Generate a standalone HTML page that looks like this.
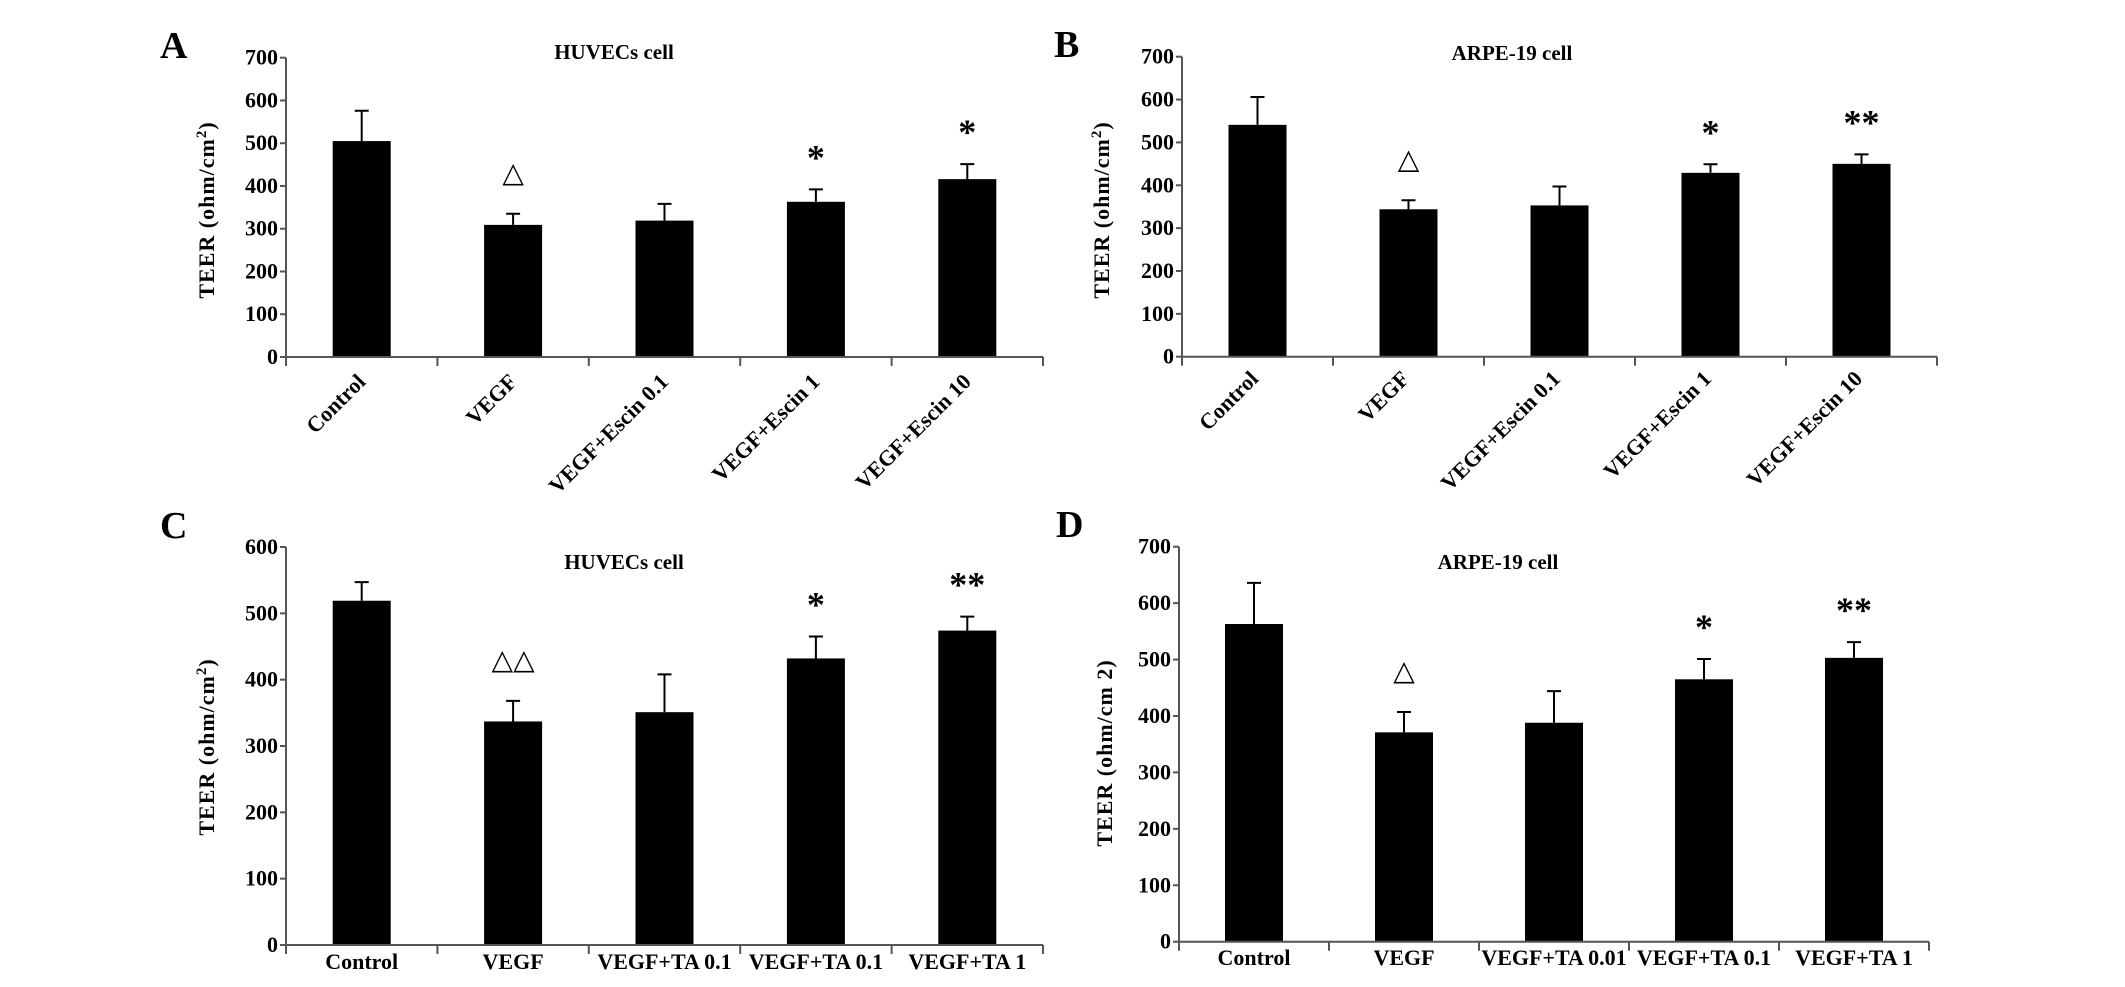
<!DOCTYPE html>
<html><head><meta charset="utf-8"><style>
html,body{margin:0;padding:0;background:#fff;}
svg{display:block;font-family:"Liberation Serif",serif;}
</style></head><body>
<svg id="fig" width="2125" height="987" viewBox="0 0 2125 987"></svg>
<script>
const escinCats = ["Control","VEGF","VEGF+Escin 0.1","VEGF+Escin 1","VEGF+Escin 10"];
const taCatsC = ["Control","VEGF","VEGF+TA 0.1","VEGF+TA 0.1","VEGF+TA 1"];
const taCatsD = ["Control","VEGF","VEGF+TA 0.01","VEGF+TA 0.1","VEGF+TA 1"];
const valuesA = [505,309,319,363,416];
const errorsA = [576,335,358,392,451];
const marksA = ["","△","","*","*"];
const valuesB = [541,344,353,429,450];
const errorsB = [606,365,397,449,472];
const marksB = ["","△","","*","**"];
const valuesC = [519,337,351,432,474];
const errorsC = [547,368,408,465,495];
const marksC = ["","△△","","*","**"];
const valuesD = [563,371,388,465,503];
const errorsD = [636,407,444,501,531];
const marksD = ["","△","","*","**"];
const ticks700 = [0,100,200,300,400,500,600,700];
const ticks600 = [0,100,200,300,400,500,600];

const NS="http://www.w3.org/2000/svg";
const svg=document.getElementById('fig');
function mk(tag,attrs,parent){const e=document.createElementNS(NS,tag);for(const k in attrs)e.setAttribute(k,attrs[k]);(parent||svg).appendChild(e);return e;}

function panel(p){
  const g=mk('g',{});
  
  
  const ymax=p.ticks[p.ticks.length-1];
  const yS=v=>p.y0-(v/ymax)*(p.y0-p.yTop);
  const cw=(p.xEnd-p.x0)/p.cats.length;
  const xC=i=>p.x0+cw*(i+0.5);
  const L=mk('text',{x:p.lx,y:p.ly,'font-size':38,'font-weight':'bold'},g);L.textContent=p.id;
  
  
  const T=mk('text',{x:p.tx,y:p.ty+7,'font-size':21,'font-weight':'bold','text-anchor':'middle'},g);T.textContent=p.title;
  
  
  const yt=mk('text',{x:0,y:0,'font-size':22,'font-weight':'bold','text-anchor':'middle','letter-spacing':1,transform:`translate(${p.ytx+7},${p.yty}) rotate(-90)`},g);
  yt.innerHTML=p.sup?'TEER (ohm/cm<tspan baseline-shift="super" font-size="15">2</tspan>)':'TEER (ohm/cm 2)';
  
  
  p.vals.forEach((v,i)=>{
    const cx=xC(i),bw=58;
    const b=mk('rect',{x:cx-bw/2,y:yS(v),width:bw,height:p.y0-yS(v),fill:'#000'},g);
    
    
    const e=mk('path',{d:`M${cx},${yS(v)}V${yS(p.errs[i])}M${cx-7},${yS(p.errs[i])}H${cx+7}`,stroke:'#000','stroke-width':2,fill:'none'},g);
    
    
    if(p.marks[i]){
      const tri=p.marks[i].includes('△');
      const m=mk('text',{x:cx,y:yS(p.errs[i])-(tri?32:20),'font-size':tri?28:36,'font-weight':tri?'normal':'bold','text-anchor':'middle','font-family':tri?'"DejaVu Sans",sans-serif':'"Liberation Serif",serif'},g);
      m.textContent=p.marks[i];
      
      
    }
  });
  const ax=mk('path',{d:`M${p.x0},${p.yTop}V${p.y0}H${p.xEnd}`,stroke:'#555','stroke-width':2,fill:'none'},g);
  
  
  p.ticks.forEach(t=>{
    mk('line',{x1:p.x0-6,x2:p.x0,y1:yS(t),y2:yS(t),stroke:'#555','stroke-width':2},g);
    const tl=mk('text',{x:p.x0-8,y:yS(t)+7,'font-size':22,'font-weight':'bold','text-anchor':'end'},g);
    tl.textContent=t;
    
    
  });
  for(let i=0;i<=p.cats.length;i++){const x=p.x0+cw*i;mk('line',{x1:x,x2:x,y1:p.y0,y2:p.y0+9,stroke:'#555','stroke-width':2},g);}
  p.cats.forEach((c,i)=>{
    let t;
    if(p.rot){
      const ax_=xC(i)+p.rdx, ay=p.ry;
      t=mk('text',{x:0,y:0,'font-size':22,'font-weight':'bold','text-anchor':'end',transform:`translate(${ax_},${ay}) rotate(-45)`},g);
    } else {
      t=mk('text',{x:xC(i),y:p.ly2,'font-size':22,'font-weight':'bold','text-anchor':'middle'},g);
    }
    t.textContent=c;
    
    
  });
}
panel({id:'A',title:'HUVECs cell',cats:escinCats,vals:valuesA,errs:errorsA,marks:marksA,ticks:ticks700,x0:286,xEnd:1043,y0:357,yTop:57.7,lx:160,ly:58,tx:614,ty:52,ytx:207,yty:210,sup:true,rot:true,rdx:5,ry:383});
panel({id:'B',title:'ARPE-19 cell',cats:escinCats,vals:valuesB,errs:errorsB,marks:marksB,ticks:ticks700,x0:1182,xEnd:1937,y0:356.7,yTop:56.7,lx:1054,ly:57,tx:1512,ty:53,ytx:1102,yty:210,sup:true,rot:true,rdx:2,ry:380});
panel({id:'C',title:'HUVECs cell',cats:taCatsC,vals:valuesC,errs:errorsC,marks:marksC,ticks:ticks600,x0:286,xEnd:1043,y0:945,yTop:547,lx:160,ly:538,tx:624,ty:562,ytx:207,yty:747,sup:true,rot:false,ly2:969});
panel({id:'D',title:'ARPE-19 cell',cats:taCatsD,vals:valuesD,errs:errorsD,marks:marksD,ticks:ticks700,x0:1179,xEnd:1929,y0:941.7,yTop:546.7,lx:1056,ly:537,tx:1498,ty:562,ytx:1105,yty:753,sup:false,rot:false,ly2:965});
</script>
</body></html>
